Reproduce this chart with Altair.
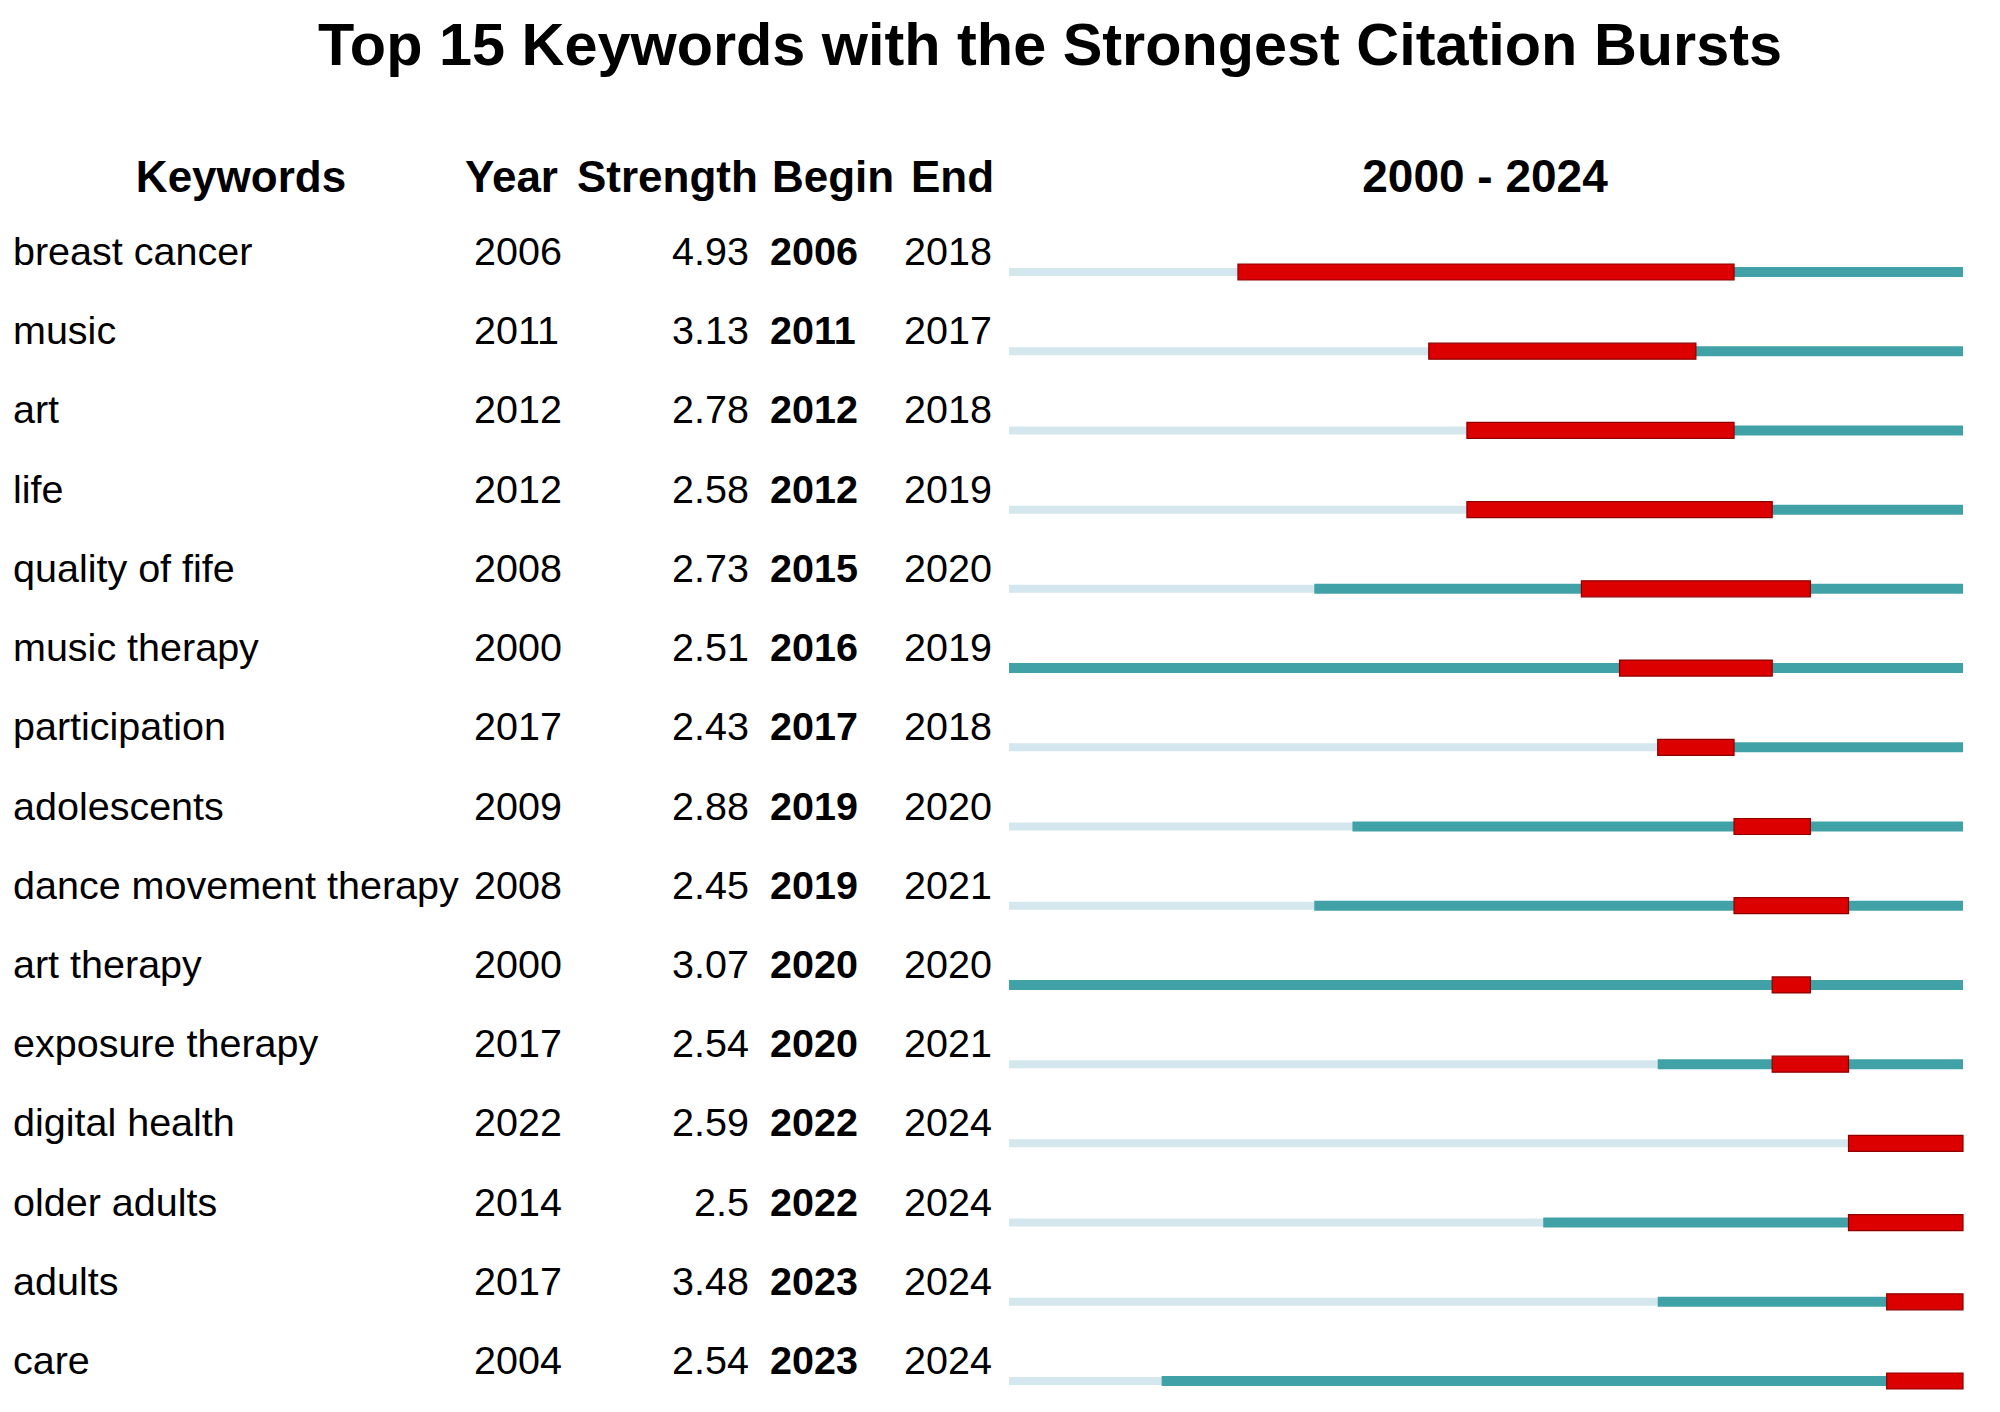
import altair as alt
import pandas as pd

title_text = "Top 15 Keywords with the Strongest Citation Bursts"
keywords = ["breast cancer", "music", "art", "life", "quality of fife", "music therapy",
            "participation", "adolescents", "dance movement therapy", "art therapy",
            "exposure therapy", "digital health", "older adults", "adults", "care"]
years = [2006, 2011, 2012, 2012, 2008, 2000, 2017, 2009, 2008, 2000, 2017, 2022, 2014, 2017, 2004]
strengths = [4.93, 3.13, 2.78, 2.58, 2.73, 2.51, 2.43, 2.88, 2.45, 3.07, 2.54, 2.59, 2.5, 3.48, 2.54]
begins = [2006, 2011, 2012, 2012, 2015, 2016, 2017, 2019, 2019, 2020, 2020, 2022, 2022, 2023, 2023]
ends = [2018, 2017, 2018, 2019, 2020, 2019, 2018, 2020, 2021, 2020, 2021, 2024, 2024, 2024, 2024]
span_first, span_last = 2000, 2024
headers = ["Keywords", "Year", "Strength", "Begin", "End", f"{span_first} - {span_last}"]

df = pd.DataFrame({
    "kw": keywords,
    "year": years,
    "strength": [str(s) for s in strengths],
    "begin": [str(b) for b in begins],
    "end": [str(e) for e in ends],
    "begin_q": begins,
    "end_excl": [e + 1 for e in ends],
    "span0": [span_first] * len(keywords),
    "span1": [span_last + 1] * len(keywords),
})

FONT = "Liberation Sans"
LIGHT = "#d5e7ee"
TEAL = "#40a2a6"
RED = "#dc0000"
DARK = "#8e0000"

Y = alt.Y("kw:N", sort=keywords, axis=None,
          scale=alt.Scale(type="point", range=[264, 1373], padding=0))
XS = alt.Scale(domain=[span_first, span_last + 1], range=[1001, 1955])

base = alt.Chart(df)

light = base.mark_bar(height=8, color=LIGHT).encode(
    x=alt.X("span0:Q", scale=XS, axis=None), x2="span1:Q", y=Y)
teal = base.mark_bar(height=10, color=TEAL).encode(
    x=alt.X("year:Q", scale=XS, axis=None), x2="span1:Q", y=Y)
red = base.mark_bar(height=16, color=RED, stroke=DARK, strokeWidth=1.2).encode(
    x=alt.X("begin_q:Q", scale=XS, axis=None), x2="end_excl:Q", y=Y)


def col(field, xpos, align, bold=False):
    return base.mark_text(align=align, baseline="alphabetic", dy=-7, fontSize=39.5,
                          font=FONT, fontWeight="bold" if bold else "normal",
                          color="black").encode(
        x=alt.value(xpos), y=Y, text=f"{field}:N")


cols = [
    col("kw", 5, "left"),
    col("year", 466, "left"),
    col("strength", 741, "right"),
    col("begin", 762, "left", bold=True),
    col("end", 896, "left"),
]


def label(txt, xpos, ypos, align, size):
    return alt.Chart(pd.DataFrame({"t": [txt]})).mark_text(
        align=align, baseline="alphabetic", fontSize=size, font=FONT,
        fontWeight="bold", color="black").encode(
        x=alt.value(xpos), y=alt.value(ypos), text="t:N")


head_pos = [(233, "center", 44), (457, "left", 44), (569, "left", 44),
            (764, "left", 44), (903, "left", 44), (1477, "center", 46)]
head_layers = [label(h, p[0], 184, p[1], p[2]) for h, p in zip(headers, head_pos)]
title_layer = label(title_text, 1042, 57, "center", 59.4)

chart = alt.layer(light, teal, red, *cols, *head_layers, title_layer).properties(
    width=1980, height=1390,
    autosize=alt.AutoSizeParams(type="none"),
    padding=0,
    background="white",
).configure_view(stroke=None)

chart.save("out.html", embed_options={"renderer": "svg", "actions": False})
